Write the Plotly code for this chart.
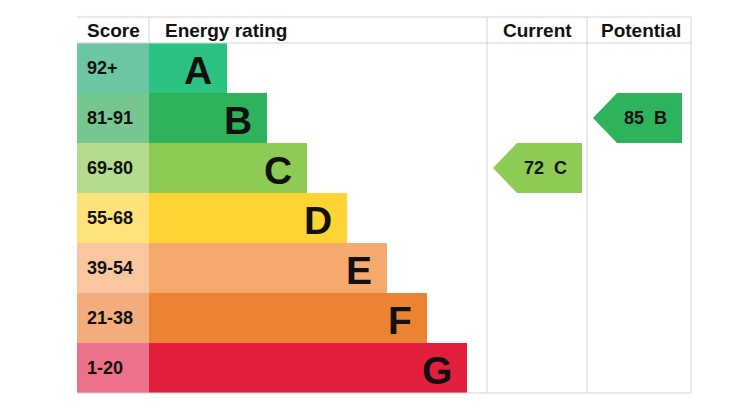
import plotly.graph_objects as go

bands = ["A", "B", "C", "D", "E", "F", "G"]
score_ranges = ["92+", "81-91", "69-80", "55-68", "39-54", "21-38", "1-20"]
band_colors = ["#2bc381", "#2db35c", "#8dcb55", "#fdd433", "#f6a96c", "#ec8332", "#e31d3c"]
score_colors = ["#6cc6a4", "#76c78f", "#b5dc8e", "#fde37a", "#f9c6a0", "#f3ad7c", "#ee718a"]
headers = ["Score", "Energy rating", "Current", "Potential"]
current_value, current_band = 72, "C"
potential_value, potential_band = 85, "B"

FONT = "Liberation Sans, Arial, sans-serif"
# geometry (pixel-like x axis, row-unit y axis)
X_SCORE0, X_BAR0, X_EN1, X_CUR1, X_POT1 = 77, 149, 487, 587, 691
BAR_LEN0, BAR_STEP = 78, 40
HDR_TOP = -26 / 50
OFF = 8  # page body margin
W, H = 729 - OFF, 415 - OFF

fig = go.Figure()
n = len(bands)
ys = [i + 0.5 for i in range(n)]

fig.add_trace(go.Bar(orientation="h", y=ys, x=[X_BAR0 - X_SCORE0] * n, base=X_SCORE0,
                     width=1, marker=dict(color=score_colors, line=dict(width=0)),
                     hoverinfo="skip", showlegend=False))
lens = [BAR_LEN0 + BAR_STEP * i for i in range(n)]
fig.add_trace(go.Bar(orientation="h", y=ys, x=lens, base=X_BAR0,
                     width=1, marker=dict(color=band_colors, line=dict(width=0)),
                     hoverinfo="skip", showlegend=False))

for i in range(n):
    fig.add_annotation(x=X_SCORE0 + 8, y=ys[i], text=f"<b>{score_ranges[i]}</b>",
                       showarrow=False, xanchor="left", yanchor="middle",
                       font=dict(family=FONT, size=18, color="#111"))
    fig.add_annotation(x=X_BAR0 + lens[i] - 13, y=ys[i] + 0.04, text=f"<b>{bands[i]}</b>",
                       showarrow=False, xanchor="right", yanchor="middle",
                       font=dict(family=FONT, size=39, color="#111"))

# headers
hdr_y = HDR_TOP / 2
fig.add_annotation(x=X_SCORE0 + 8, y=hdr_y, text=f"<b>{headers[0]}</b>", showarrow=False,
                   xanchor="left", font=dict(family=FONT, size=19, color="#111"))
fig.add_annotation(x=X_BAR0 + 14, y=hdr_y, text=f"<b>{headers[1]}</b>", showarrow=False,
                   xanchor="left", font=dict(family=FONT, size=19, color="#111"))
fig.add_annotation(x=(X_EN1 + X_CUR1) / 2, y=hdr_y, text=f"<b>{headers[2]}</b>", showarrow=False,
                   font=dict(family=FONT, size=19, color="#111"))
fig.add_annotation(x=(X_CUR1 + X_POT1) / 2 + 2, y=hdr_y, text=f"<b>{headers[3]}</b>", showarrow=False,
                   font=dict(family=FONT, size=19, color="#111"))

# grid lines
line = dict(color="#d3d3d3", width=1)
fig.add_shape(type="line", x0=X_SCORE0, x1=X_POT1, y0=HDR_TOP, y1=HDR_TOP, line=line)
fig.add_shape(type="line", x0=X_SCORE0, x1=X_POT1, y0=0, y1=0, line=line)
fig.add_shape(type="line", x0=X_SCORE0, x1=X_POT1, y0=n, y1=n, line=line)
fig.add_shape(type="line", x0=X_BAR0, x1=X_BAR0, y0=HDR_TOP, y1=0, line=line)
for xv in (X_EN1, X_CUR1, X_POT1):
    fig.add_shape(type="line", x0=xv, x1=xv, y0=HDR_TOP, y1=n, line=line)


def arrow(value, band, x_left):
    i = bands.index(band)
    tip, shoulder, right = x_left + 6, x_left + 30, x_left + 95
    xs = [tip, shoulder, right, right, shoulder, tip]
    yv = [i + 0.5, i, i, i + 1, i + 1, i + 0.5]
    fig.add_trace(go.Scatter(x=xs, y=yv, fill="toself", fillcolor=band_colors[i],
                             line=dict(width=0, color=band_colors[i]), mode="lines",
                             hoverinfo="skip", showlegend=False))
    fig.add_annotation(x=x_left + 58, y=i + 0.5, text=f"<b>{value}  {band}</b>",
                       showarrow=False, font=dict(family=FONT, size=18, color="#111"))


arrow(current_value, current_band, X_EN1)
arrow(potential_value, potential_band, X_CUR1)

fig.update_layout(
    width=W, height=H, margin=dict(l=0, r=0, t=0, b=0),
    paper_bgcolor="white", plot_bgcolor="white", bargap=0, barmode="overlay",
    xaxis=dict(range=[OFF, 729], visible=False, fixedrange=True),
    yaxis=dict(range=[(H - (43 - OFF)) / 50, -(43 - OFF) / 50], visible=False, fixedrange=True),
)
fig.write_html("out.html")
